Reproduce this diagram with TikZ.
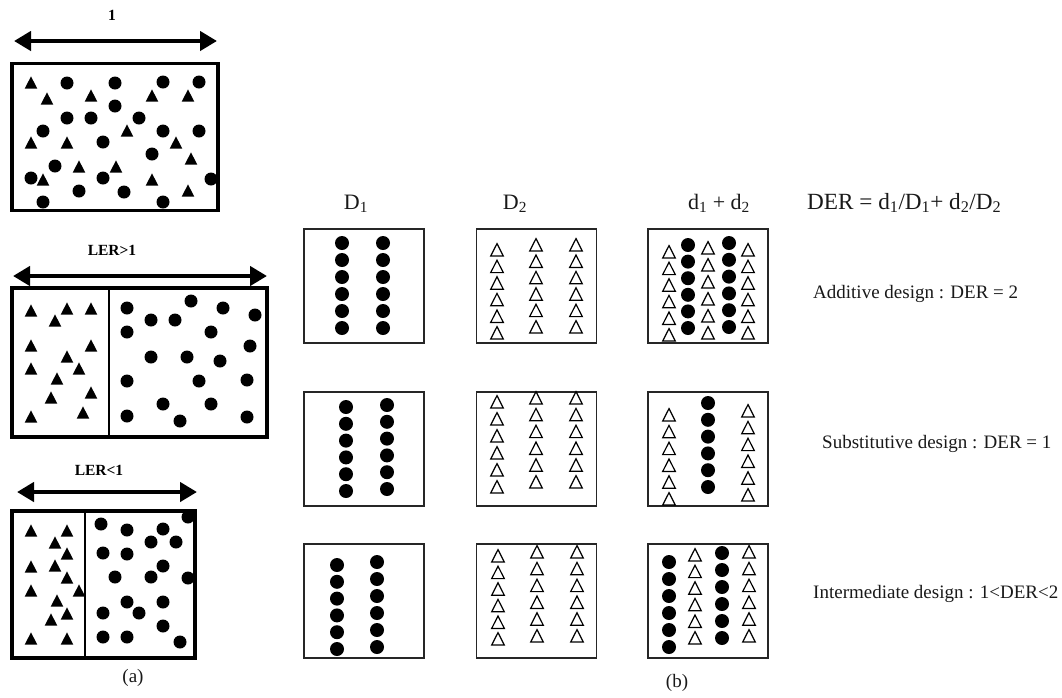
\documentclass[tikz,border=0pt]{standalone}
\usepackage{fontspec}
\setmainfont{Liberation Serif}
\usetikzlibrary{arrows.meta}
\newcommand\FC[2]{\fill (#1,#2) circle[radius=6.5pt];}
\newcommand\FT[2]{\fill (#1,#2) ++(-6.3,5.6) -- ++(12.6,0) -- ++(-6.3,-12.2) -- cycle;}
\newcommand\RC[2]{\fill (#1,#2) circle[radius=7pt];}
\newcommand\OT[2]{\draw[otri] (#1,#2) ++(-6.3,6) -- ++(12.6,0) -- ++(-6.3,-12.4) -- cycle;}
\begin{document}
\begin{tikzpicture}[x=1pt,y=-1pt,
  lbox/.style={draw=black,fill=white,line width=3.3pt,inner sep=0pt},
  rbox/.style={draw=black!85,fill=white,line width=1.4pt,inner sep=0pt,minimum width=120pt,minimum height=114pt},
  divider/.style={line width=2.6pt},
  bigarrow/.style={line width=4.8pt,{Triangle[length=17pt,width=19pt]}-{Triangle[length=17pt,width=19pt]}},
  otri/.style={line width=1.2pt,line join=miter},
  lab/.style={font=\bfseries\fontsize{15.5}{18}\selectfont,inner sep=0pt},
  txt/.style={font=\fontsize{19}{23}\selectfont,inner sep=0pt,text=black!90},
  head/.style={font=\fontsize{22}{26}\selectfont,inner sep=0pt,anchor=base,text=black!90}]
\path[use as bounding box] (0,0) rectangle (1062,697);

% ---------- panel (a) ----------
\node[lab] (l1) at (112,15) {1};
\coordinate (a1l) at (14,41); \coordinate (a1r) at (217,41);
\draw[bigarrow] (a1l) -- (a1r);
\node[lbox,minimum width=206pt,minimum height=147pt] (A1) at (115,137) {};
\foreach \p/\q in {31/83,47/99,91/96,152/96,188/96,127/131,31/143,67/143,176/143,191/159,79/167,116/167,43/180,152/180,188/191}{\FT{\p}{\q}}
\foreach \p/\q in {67/83,115/83,163/82,199/82,115/106,67/118,91/118,139/118,43/131,163/131,199/131,103/142,152/154,55/166,31/178,103/178,211/179,79/191,124/192,43/202,163/202}{\FC{\p}{\q}}

\node[lab] (l2) at (112,250) {LER>1};
\coordinate (a2l) at (13,276); \coordinate (a2r) at (267,276);
\draw[bigarrow] (a2l) -- (a2r);
\node[lbox,minimum width=255pt,minimum height=149pt] (A2) at (139.5,362.5) {};
\coordinate (d2t) at (109,288); \coordinate (d2b) at (109,437);
\draw[divider] (d2t) -- (d2b);
\foreach \p/\q in {31/311,67/309,91/309,55/321,31/346,91/346,67/357,31/369,79/369,57/379,91/393,51/398,31/417,83/413}{\FT{\p}{\q}}
\foreach \p/\q in {127/308,191/301,223/308,255/315,151/320,175/320,127/332,211/332,250/346,151/357,187/357,220/361,127/381,199/381,247/380,163/404,211/404,127/416,180/421,247/417}{\FC{\p}{\q}}

\node[lab] (l3) at (99,470) {LER<1};
\coordinate (a3l) at (17,492); \coordinate (a3r) at (197,492);
\draw[bigarrow] (a3l) -- (a3r);
\node[lbox,minimum width=183pt,minimum height=147pt] (A3) at (103.5,584.5) {};
\coordinate (d3t) at (85,511); \coordinate (d3b) at (85,658);
\draw[divider] (d3t) -- (d3b);
\foreach \p/\q in {31/531,67/531,55/543,67/554,31/567,55/566,67/578,31/591,79/591,57/601,67/614,51/620,31/639,67/639}{\FT{\p}{\q}}
\foreach \p/\q in {101/524,127/530,163/529,188/517,151/542,176/542,103/553,127/554,163/566,115/577,151/577,188/578,127/602,163/602,139/613,103/613,163/626,103/637,127/637,180/642}{\FC{\p}{\q}}

\node[txt] (capa) at (133,678) {(a)};

% ---------- panel (b) ----------
\node[head] (h1) at (356,209) {D\textsubscript{1}};
\node[head] (h2) at (515,209) {D\textsubscript{2}};
\node[head] (h3) at (719,209) {d\textsubscript{1} + d\textsubscript{2}};
\node[head,anchor=base west,font=\fontsize{23.2}{27}\selectfont] (h4) at (807,209) {DER = d\textsubscript{1}/D\textsubscript{1}+ d\textsubscript{2}/D\textsubscript{2}};

\node[rbox] (b11) at (364,286) {};
\node[rbox] (b12) at (536.5,286) {};
\node[rbox] (b13) at (708,286) {};
\node[rbox] (b21) at (364,449) {};
\node[rbox] (b22) at (536.5,449) {};
\node[rbox] (b23) at (708,449) {};
\node[rbox] (b31) at (364,601) {};
\node[rbox] (b32) at (536.5,601) {};
\node[rbox] (b33) at (708,601) {};

\foreach \i in {0,...,5}{
  % row 1
  \RC{342}{243+17*\i} \RC{383}{243+17*\i}
  \OT{497}{250+16.6*\i} \OT{536}{245+16.4*\i} \OT{576}{245+16.4*\i}
  \OT{669}{252+16.6*\i} \RC{688}{245+16.6*\i} \OT{708}{248+17*\i} \RC{729}{243+16.8*\i} \OT{748}{250+16.6*\i}
  % row 2
  \RC{346}{407+16.8*\i} \RC{387}{405+16.8*\i}
  \OT{497}{402+17*\i} \OT{536}{398+16.8*\i} \OT{576}{398+16.8*\i}
  \OT{669}{415+16.8*\i} \RC{708}{403+16.8*\i} \OT{748}{411+16.8*\i}
  % row 3
  \RC{337}{565+16.8*\i} \RC{377}{562+17*\i}
  \OT{498}{556+16.6*\i} \OT{537}{552+16.8*\i} \OT{577}{552+16.8*\i}
  \RC{669}{562+17*\i} \OT{695}{555+16.6*\i} \RC{722}{553+17*\i} \OT{749}{552+16.8*\i}
}

\node[txt,anchor=west] (t1) at (813,294) {Additive design : DER = 2};
\node[txt,anchor=west] (t2) at (822,444) {Substitutive design : DER = 1};
\node[txt,anchor=west] (t3) at (813,594) {Intermediate design : 1<DER<2};
\node[txt] (capb) at (677,683) {(b)};
\end{tikzpicture}
\end{document}
